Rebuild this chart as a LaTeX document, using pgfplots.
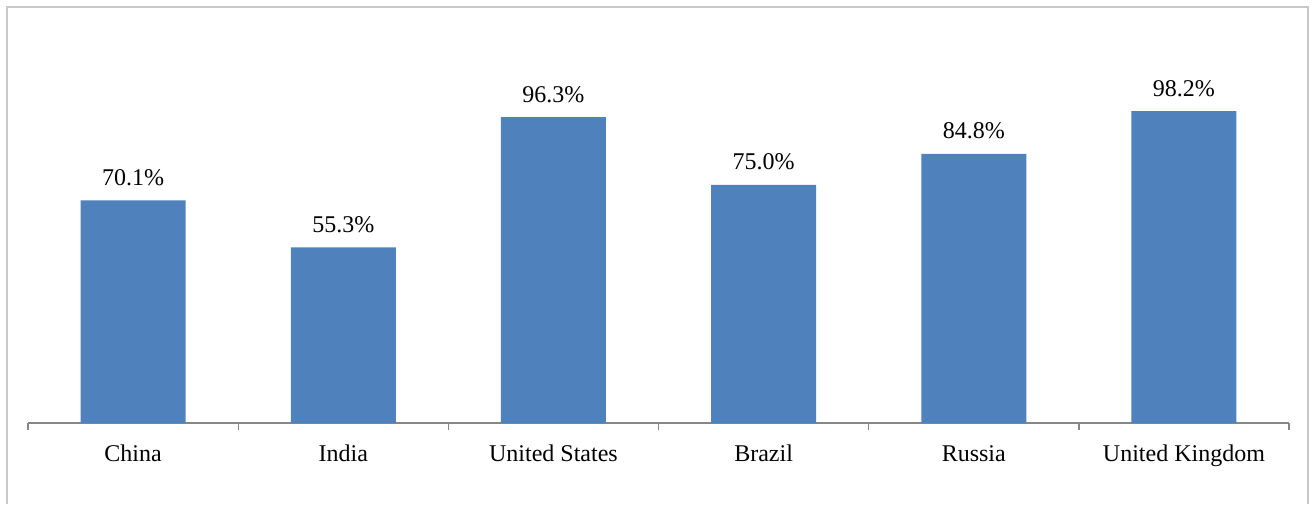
\documentclass[border=0pt]{standalone}
\usepackage{fontspec}
\setmainfont{Liberation Serif}
\usepackage{pgfplots}
\pgfplotsset{compat=1.18}
\definecolor{barblue}{HTML}{4F81BD}
\definecolor{framegray}{HTML}{C8C8C8}
\definecolor{axisgray}{HTML}{868686}
\begin{document}
\begin{tikzpicture}[font=\fontsize{18}{21.6}\selectfont]
\useasboundingbox (0pt,0pt) rectangle (986.25pt,378pt);
\draw[framegray, line width=1.5pt] (5.25pt,0pt) -- (5.25pt,372.75pt) -- (981pt,372.75pt) -- (981pt,0pt);
\begin{axis}[
  at={(21pt,60.75pt)}, anchor=south west,
  scale only axis, width=945.75pt, height=285.75pt,
  xmin=-0.5, xmax=5.5, ymin=0, ymax=120,
  enlargelimits=false, clip=false,
  axis x line*=bottom, axis y line=none,
  xtick={0,1,2,3,4,5},
  xticklabels={China,India,United States,Brazil,Russia,United Kingdom},
  major tick length=0pt,
  minor xtick={-0.5,0.5,1.5,2.5,3.5,4.5,5.5},
  minor tick length=5.25pt,
  xtick align=outside,
  ytick=\empty,
  x axis line style={axisgray, line width=1pt},
  every tick/.style={axisgray, line width=1pt},
  xticklabel style={anchor=base, yshift=-28.5pt, text=black},
  /pgf/number format/assume math mode=true,
  ybar, bar width=78.75pt,
  nodes near coords={\pgfmathprintnumber[fixed,fixed zerofill,precision=1]{\pgfplotspointmeta}\%},
  every node near coord/.append style={anchor=base, yshift=11.25pt, text=black},
]
\addplot[fill=barblue, draw=none] coordinates {(0,70.1) (1,55.3) (2,96.3) (3,75.0) (4,84.8) (5,98.2)};
\end{axis}
\end{tikzpicture}
\end{document}
